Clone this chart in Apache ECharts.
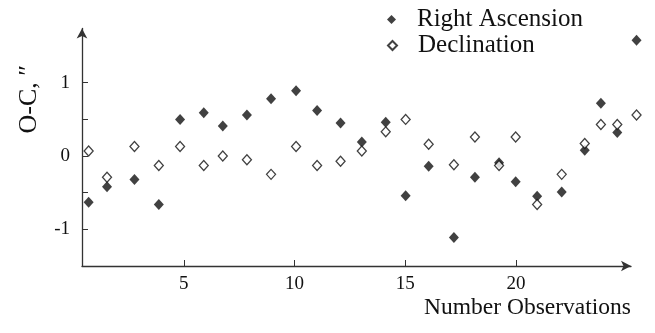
<!DOCTYPE html>
<html>
<head>
<meta charset="utf-8">
<script src="https://cdn.jsdelivr.net/npm/echarts@6/dist/echarts.min.js"></script>
<style>
  html, body { margin: 0; padding: 0; background: #fff; }
  #chart { width: 655px; height: 333px; }
</style>
</head>
<body>
<div id="chart"></div>
<script>
const obsX = [0.70, 1.53, 2.77, 3.87, 4.83, 5.90, 6.76, 7.85, 8.94, 10.07, 11.02, 12.08, 13.04,
  14.12, 15.02, 16.06, 17.20, 18.15, 19.24, 19.99, 20.96, 22.07, 23.11, 23.84, 24.58, 25.45];

const rightAscension = [-0.63, -0.42, -0.32, -0.66, 0.50, 0.59, 0.41, 0.56, 0.78, 0.89, 0.62, 0.45, 0.19,
  0.46, -0.54, -0.14, -1.11, -0.29, -0.09, -0.35, -0.55, -0.49, 0.08, 0.72, 0.32, 1.58];

const declination = [0.07, -0.29, 0.13, -0.13, 0.13, -0.13, 0.00, -0.05, -0.25, 0.13, -0.13, -0.07, 0.07,
  0.33, 0.50, 0.16, -0.12, 0.26, -0.13, 0.26, -0.66, -0.25, 0.17, 0.43, 0.43, 0.56];

const xTicks = [5, 10, 15, 20];
const yTicks = [-1, -0.5, 0, 0.5, 1];
const yLabels = [-1, 0, 1];

(function() {
  const font = 'Liberation Serif';
  const pair = (ys) => ys.map((y, i) => [obsX[i], y]);

  const legendText = { fontFamily: font, fontSize: 25, color: '#111', padding: [0, 0, 0, 16] };

  const option = {
    animation: false,
    textStyle: { fontFamily: font, color: '#000' },
    grid: { left: 82, right: 24, top: 28.5, bottom: 67 },
    legend: [
      {
        data: ['Right Ascension'],
        left: 382, top: 2,
        itemWidth: 9, itemHeight: 9,
        textStyle: legendText
      },
      {
        data: ['Declination'],
        left: 382, top: 28,
        itemWidth: 9, itemHeight: 9,
        textStyle: legendText
      }
    ],
    xAxis: {
      type: 'value',
      min: 0.4,
      max: 25.2,
      name: 'Number Observations',
      nameLocation: 'end',
      nameGap: 0,
      nameTextStyle: {
        fontFamily: font, fontSize: 23.5, color: '#111',
        align: 'right', verticalAlign: 'top', padding: [30, 0, 0, 0]
      },
      axisLine: {
        onZero: false,
        lineStyle: { color: '#333', width: 1.3 },
        symbol: ['none', 'arrow'],
        symbolSize: [8, 10]
      },
      axisTick: { inside: true, length: 6, customValues: xTicks, lineStyle: { color: '#333' } },
      axisLabel: { customValues: xTicks, fontFamily: font, fontSize: 19, color: '#111', margin: 9 },
      splitLine: { show: false }
    },
    yAxis: {
      type: 'value',
      min: -1.5,
      max: 1.74,
      name: 'O-C, \u2033',
      nameLocation: 'middle',
      nameRotate: 90,
      nameGap: 40,
      nameTextStyle: { fontFamily: font, fontSize: 26, color: '#111', padding: [0, 0, 0, 96] },
      axisLine: {
        onZero: false,
        lineStyle: { color: '#333', width: 1.3 },
        symbol: ['none', 'arrow'],
        symbolSize: [8, 10]
      },
      axisTick: { inside: true, length: 6, customValues: yTicks, lineStyle: { color: '#333' } },
      axisLabel: { customValues: yLabels, fontFamily: font, fontSize: 19, color: '#111', margin: 12 },
      splitLine: { show: false }
    },
    series: [
      {
        name: 'Right Ascension',
        type: 'scatter',
        symbol: 'diamond',
        symbolSize: [10, 11],
        clip: false,
        itemStyle: { color: '#111' },
        data: pair(rightAscension)
      },
      {
        name: 'Declination',
        type: 'scatter',
        symbol: 'diamond',
        symbolSize: [9, 10],
        clip: false,
        itemStyle: { color: '#fff', borderColor: '#111', borderWidth: 1.3 },
        data: pair(declination)
      }
    ]
  };

  const chart = echarts.init(document.getElementById('chart'));
  chart.setOption(option);
  window.addEventListener('resize', () => chart.resize());
})();
</script>
</body>
</html>
